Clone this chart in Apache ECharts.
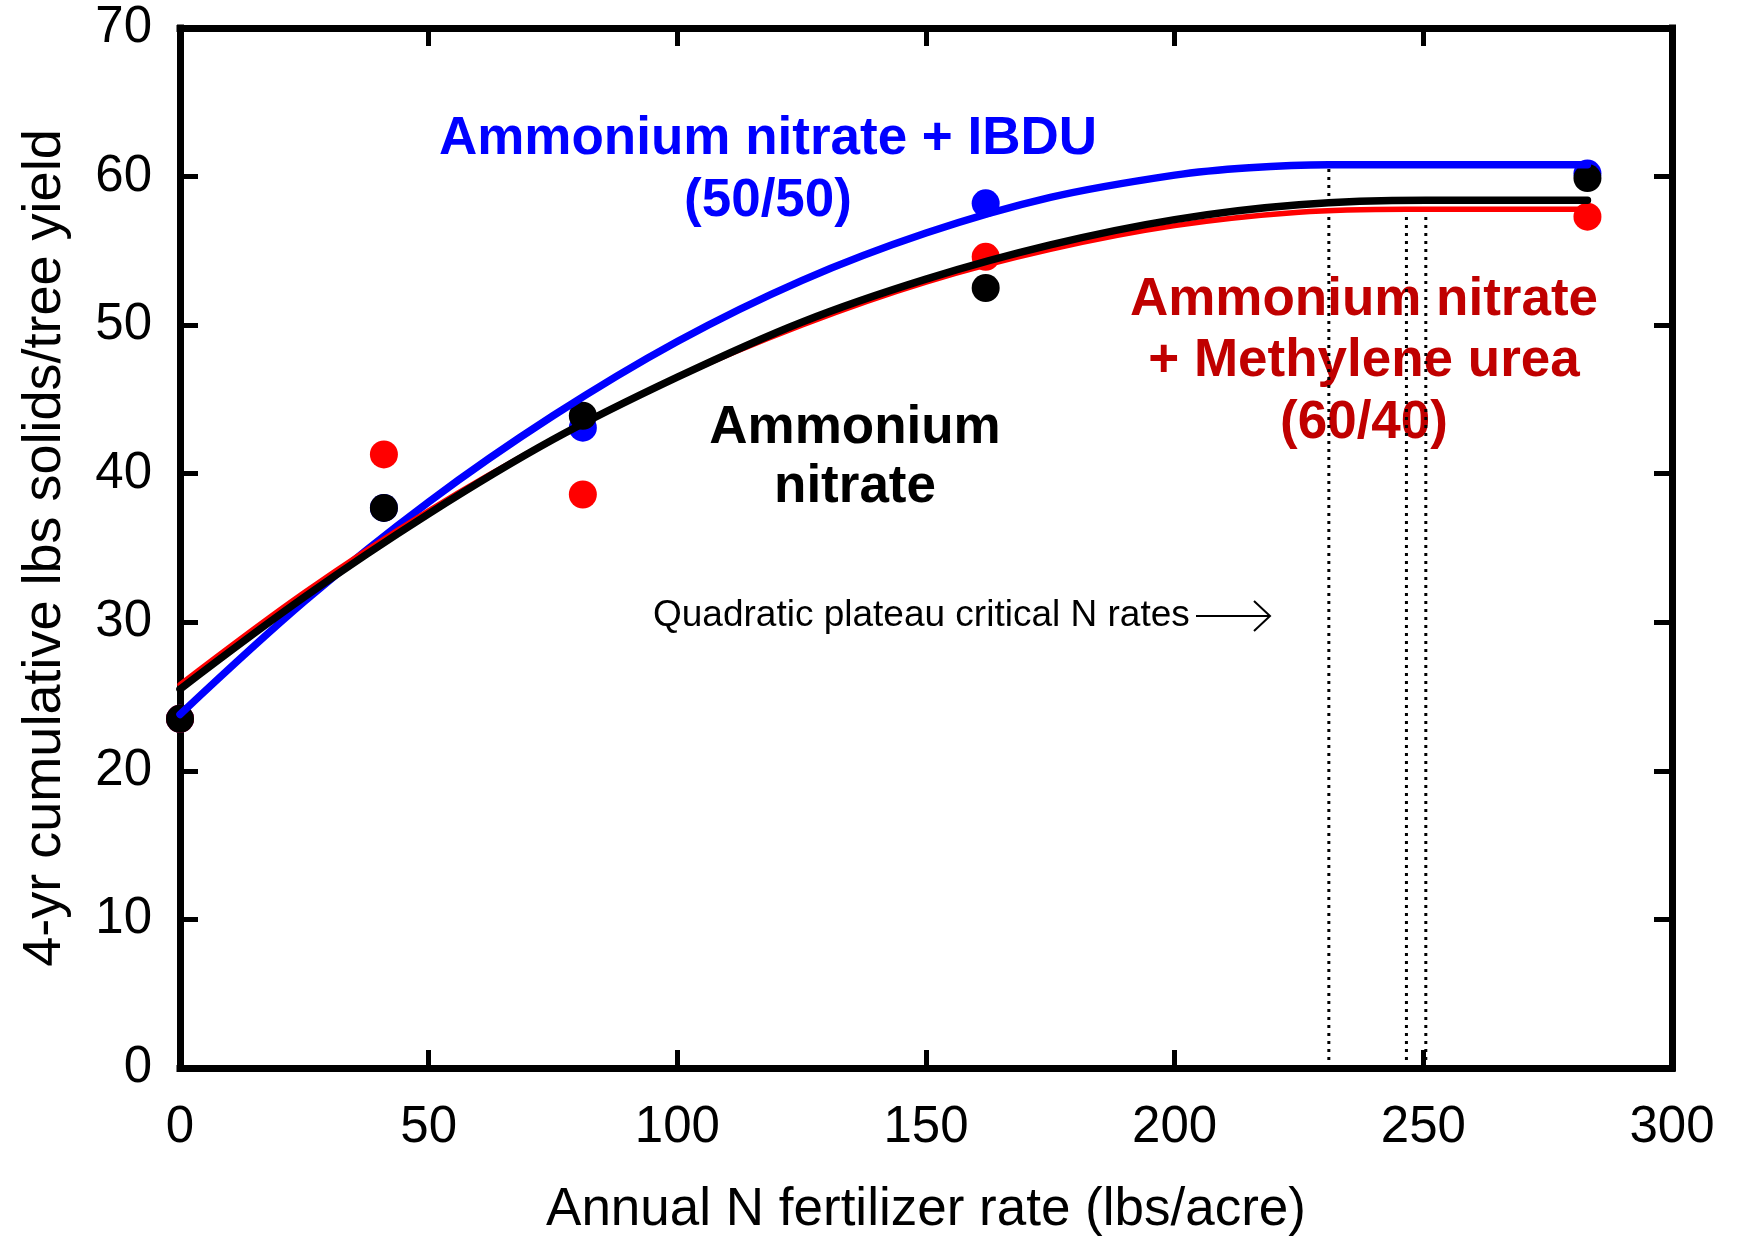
<!DOCTYPE html>
<html>
<head>
<meta charset="utf-8">
<script src="https://cdn.jsdelivr.net/npm/echarts@6/dist/echarts.min.js"></script>
<style>
  html, body { margin: 0; padding: 0; background: #fff; }
  #chart { width: 1742px; height: 1242px; }
</style>
</head>
<body>
<div id="chart"></div>
<script>
// N rates (lbs/acre) and observed yields
var nRates = [0, 41, 81, 162, 283];
var yieldAN = [23.5, 37.7, 43.9, 52.5, 59.9];        // ammonium nitrate
var yieldMU = [23.5, 41.3, 38.6, 54.6, 57.3];        // AN + methylene urea
var yieldIBDU = [23.5, 37.7, 43.1, 58.2, 60.2];      // AN + IBDU

// fitted curves
var fitX_AN = [0, 25, 50, 75, 100, 125, 150, 175, 200, 225, 250.5, 283];
var fitY_AN = [25.5, 31.7, 37.3, 42.3, 46.5, 50.2, 53.1, 55.4, 57.1, 58.1, 58.4, 58.4];
var fitX_MU = [0, 25, 50, 75, 100, 125, 150, 175, 200, 225, 246.6, 283];
var fitY_MU = [25.8, 32.0, 37.5, 42.3, 46.5, 50.0, 52.9, 55.1, 56.7, 57.6, 57.8, 57.8];
var fitX_IBDU = [0, 25, 50, 75, 100, 125, 150, 175, 200, 215, 231, 283];
var fitY_IBDU = [23.8, 31.4, 38.1, 43.9, 48.9, 53.0, 56.2, 58.6, 60.1, 60.6, 60.8, 60.8];

// critical N rates and plateau heights (IBDU, MU, AN)
var criticalRates = [231, 246.6, 250.5];
var plateaus = [60.8, 57.8, 58.4];

var xTicks = [0, 50, 100, 150, 200, 250, 300];
var yTicks = [0, 10, 20, 30, 40, 50, 60, 70];

function pairs(xs, ys) {
    return xs.map(function (x, i) { return [x, ys[i]]; });
}

var font = 'Liberation Sans, Arial, sans-serif';
var chart = echarts.init(document.getElementById('chart'));

var series = [];
// dotted drop lines
criticalRates.forEach(function (x, i) {
    series.push({
        type: 'line',
        data: [[x, 0], [x, plateaus[i]]],
        symbol: 'none',
        lineStyle: { color: '#000', width: 3, type: [3, 5] },
        silent: true
    });
});

function addGroup(xs, ys, color, width) {
    series.push({
        type: 'line',
        data: pairs(xs, ys),
        smooth: 0.35,
        symbol: 'none',
        lineStyle: { color: color, width: width, cap: 'round' }
    });
}
function addPoints(ys, color) {
    series.push({
        type: 'scatter',
        data: pairs(nRates, ys),
        symbolSize: 28,
        itemStyle: { color: color, opacity: 1 }
    });
}

addGroup(fitX_IBDU, fitY_IBDU, '#0000ff', 7.5);
addPoints(yieldIBDU, '#0000ff');
addGroup(fitX_MU, fitY_MU, '#ff0000', 5.5);
addPoints(yieldMU, '#ff0000');
addGroup(fitX_AN, fitY_AN, '#000000', 7.5);
addPoints(yieldAN, '#000000');

function axisLine() {
    return { show: true, onZero: false, lineStyle: { color: '#000', width: 7, cap: 'square' } };
}
function tick() {
    return { show: true, inside: true, length: 18, lineStyle: { color: '#000', width: 5 } };
}

var option = {
    backgroundColor: '#fff',
    animation: false,
    grid: { left: 180, right: 70, top: 28, bottom: 170 },
    xAxis: [{
        type: 'value', min: 0, max: 300, interval: 50, position: 'bottom',
        name: 'Annual N fertilizer rate (lbs/acre)',
        nameLocation: 'middle', nameGap: 116,
        nameTextStyle: { fontFamily: font, fontSize: 53, color: '#000' },
        axisLine: axisLine(), axisTick: tick(),
        axisLabel: { fontFamily: font, fontSize: 51, color: '#000', margin: 34 },
        splitLine: { show: false }
    }, {
        type: 'value', min: 0, max: 300, interval: 50, position: 'top',
        axisLine: axisLine(), axisTick: tick(),
        axisLabel: { show: false }, splitLine: { show: false }
    }],
    yAxis: [{
        type: 'value', min: 0, max: 70, interval: 10, position: 'left',
        name: '4-yr cumulative lbs solids/tree yield',
        nameLocation: 'middle', nameGap: 108,
        nameTextStyle: { fontFamily: font, fontSize: 54, color: '#000' },
        axisLine: axisLine(), axisTick: tick(),
        axisLabel: { fontFamily: font, fontSize: 51, color: '#000', margin: 28 },
        splitLine: { show: false }
    }, {
        type: 'value', min: 0, max: 70, interval: 10, position: 'right',
        axisLine: axisLine(), axisTick: tick(),
        axisLabel: { show: false }, splitLine: { show: false }
    }],
    series: series,
    graphic: [
        { type: 'text', x: 768, y: 139, style: { text: 'Ammonium nitrate + IBDU', fill: '#0000ff', font: 'bold 53px ' + font, align: 'center', verticalAlign: 'middle' } },
        { type: 'text', x: 768, y: 201, style: { text: '(50/50)', fill: '#0000ff', font: 'bold 53px ' + font, align: 'center', verticalAlign: 'middle' } },
        { type: 'text', x: 855, y: 428, style: { text: 'Ammonium', fill: '#000', font: 'bold 53px ' + font, align: 'center', verticalAlign: 'middle' } },
        { type: 'text', x: 855, y: 487, style: { text: 'nitrate', fill: '#000', font: 'bold 53px ' + font, align: 'center', verticalAlign: 'middle' } },
        { type: 'text', x: 1364, y: 300, style: { text: 'Ammonium nitrate', fill: '#c00000', font: 'bold 53px ' + font, align: 'center', verticalAlign: 'middle' } },
        { type: 'text', x: 1364, y: 361, style: { text: '+ Methylene urea', fill: '#c00000', font: 'bold 53px ' + font, align: 'center', verticalAlign: 'middle' } },
        { type: 'text', x: 1364, y: 423, style: { text: '(60/40)', fill: '#c00000', font: 'bold 53px ' + font, align: 'center', verticalAlign: 'middle' } },
        { type: 'text', x: 653, y: 616, style: { text: 'Quadratic plateau critical N rates', fill: '#000', font: '37px ' + font, align: 'left', verticalAlign: 'middle' } },
        { type: 'line', shape: { x1: 1196, y1: 616, x2: 1270, y2: 616 }, style: { stroke: '#000', lineWidth: 2 } },
        { type: 'polyline', shape: { points: [[1254, 601], [1270, 616], [1254, 631]] }, style: { stroke: '#000', lineWidth: 2, fill: null } }
    ]
};

chart.setOption(option);
</script>
</body>
</html>
